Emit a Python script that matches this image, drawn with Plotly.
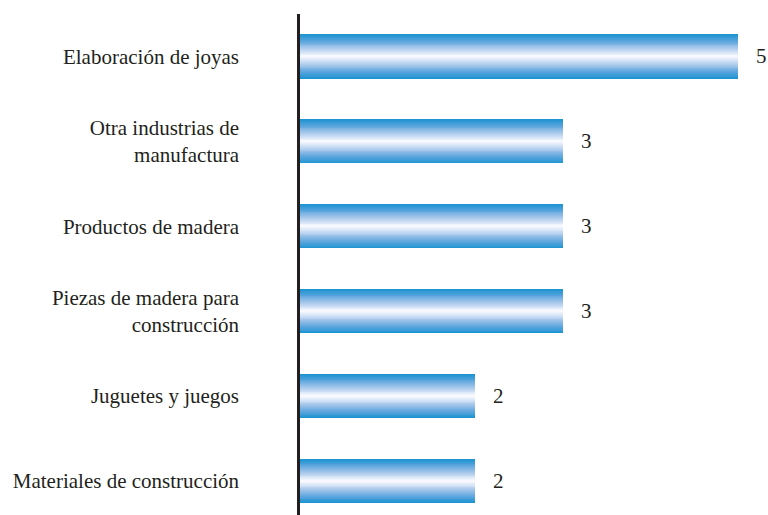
import plotly.graph_objects as go

categories = [
    "Elaboración de joyas",
    "Otra industrias de<br>manufactura",
    "Productos de madera",
    "Piezas de madera para<br>construcción",
    "Juguetes y juegos",
    "Materiales de construcción",
]
values = [5, 3, 3, 3, 2, 2]

FONT = "Liberation Serif, Times New Roman, serif"
TXT = "#231f20"
BAR_W = 0.52
N_LAYERS = 24

# gradient profile: t = distance from bar centre (0) to edge (1)
profile = [
    (0.00, (255, 255, 255)),
    (0.12, (232, 239, 251)),
    (0.40, (170, 201, 236)),
    (0.70, (95, 166, 222)),
    (1.00, (30, 148, 210)),
]


def color_at(t):
    for (t0, c0), (t1, c1) in zip(profile[:-1], profile[1:]):
        if t0 <= t <= t1:
            f = (t - t0) / (t1 - t0)
            c = [round(a + (b - a) * f) for a, b in zip(c0, c1)]
            return f"rgb({c[0]},{c[1]},{c[2]})"
    return "rgb(30,148,210)"


fig = go.Figure()
for k in range(N_LAYERS):
    t = 1 - k / N_LAYERS
    fig.add_trace(go.Bar(
        x=values,
        y=categories,
        orientation="h",
        width=BAR_W * t,
        marker=dict(color=color_at(t), line=dict(width=0)),
        hoverinfo="skip" if k else "x+y",
        showlegend=False,
    ))

for cat, v in zip(categories, values):
    fig.add_annotation(
        x=v, y=cat, text=str(v), showarrow=False,
        xanchor="left", xshift=16,
        font=dict(family=FONT, size=21, color=TXT),
    )

fig.update_layout(
    width=768, height=515,
    margin=dict(l=300, r=4, t=14, b=0, autoexpand=False),
    barmode="overlay",
    bargap=0,
    plot_bgcolor="white",
    paper_bgcolor="white",
    font=dict(family=FONT, size=21, color=TXT),
    xaxis=dict(range=[0, 5.3], visible=False, showgrid=False, zeroline=False,
               automargin=False),
    yaxis=dict(
        type="category",
        categoryorder="array",
        categoryarray=categories,
        range=[len(categories) - 1 + 0.4, -0.5],
        showline=True, linecolor=TXT, linewidth=2.5,
        showgrid=False, zeroline=False, automargin=False,
        ticks="", ticklabelstandoff=54,
        tickfont=dict(family=FONT, size=21, color=TXT),
    ),
)

fig.write_html(
    "out.html",
    config={"displayModeBar": False},
    post_script="document.body.style.margin='0';document.body.style.overflow='hidden';",
)
